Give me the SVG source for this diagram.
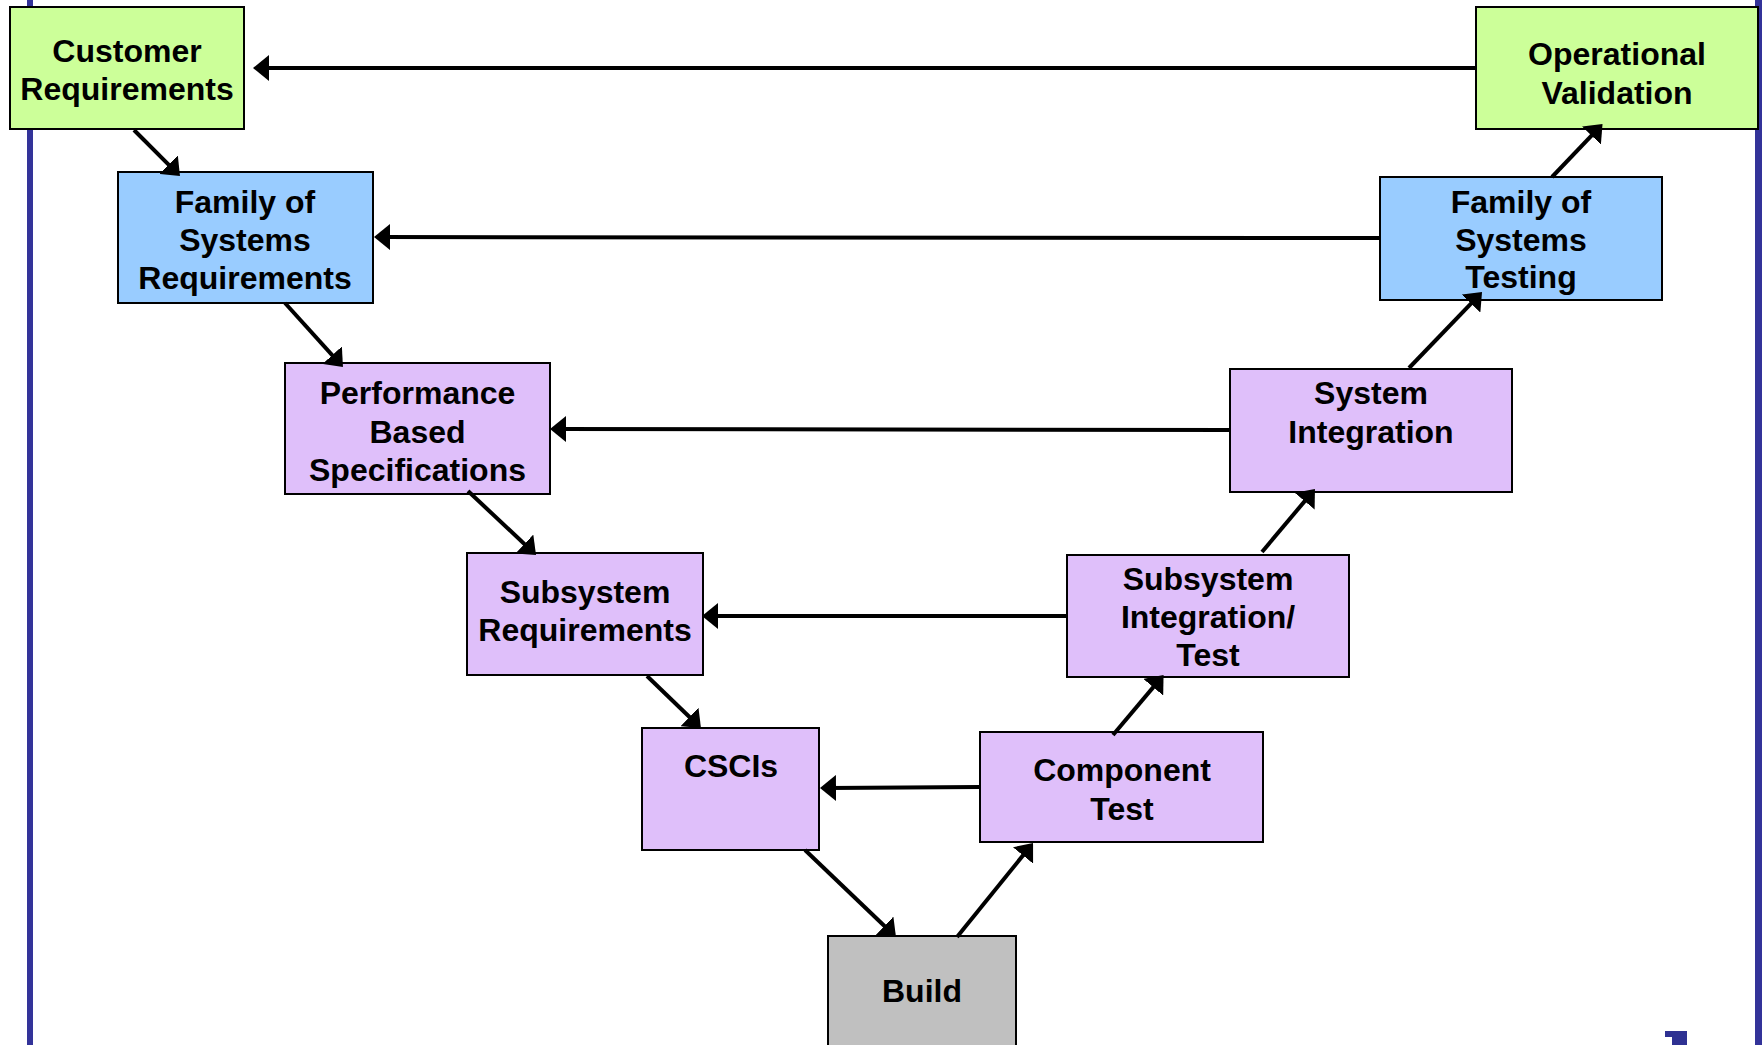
<svg xmlns="http://www.w3.org/2000/svg" width="1762" height="1045" viewBox="0 0 1762 1045">
<style>
  .box { stroke: #000; stroke-width: 2; }
  .green { fill: #CCFF99; }
  .blue { fill: #99CCFF; }
  .purple { fill: #DFBFFA; }
  .gray { fill: #C0C0C0; }
  .lbl { font-family: "Liberation Sans", Arial, sans-serif; font-weight: bold; font-size: 32px; fill: #000; text-anchor: middle; }
  .con { stroke: #000; stroke-width: 4; fill: none; marker-end: url(#ah); }
  .bar { fill: #333399; }
</style>
<defs>
  <marker id="ah" markerUnits="userSpaceOnUse" markerWidth="16" markerHeight="26" viewBox="0 0 16 26" refX="8" refY="13" orient="auto">
    <path d="M0,0 L16,13 L0,26 z" fill="#000"/>
  </marker>
</defs>
<rect width="1762" height="1045" fill="#fff"/>
<g id="frame">
  <rect class="bar" x="27" y="0" width="6" height="1045"/>
  <rect class="bar" x="1755" y="0" width="7" height="1045"/>
  <rect x="1672" y="1031" width="15" height="14" fill="#2E3192"/>
  <rect x="1665" y="1031" width="8" height="6" fill="#2E3192"/>
</g>
<g id="customer-requirements">
  <rect class="box green" x="10" y="7" width="234" height="122"/>
  <text class="lbl" x="127" y="62">Customer</text>
  <text class="lbl" x="127" y="100">Requirements</text>
</g>
<g id="operational-validation">
  <rect class="box green" x="1476" y="7" width="282" height="122"/>
  <text class="lbl" x="1617" y="65">Operational</text>
  <text class="lbl" x="1617" y="104">Validation</text>
</g>
<g id="fos-requirements">
  <rect class="box blue" x="118" y="172" width="255" height="131"/>
  <text class="lbl" x="245" y="213">Family of</text>
  <text class="lbl" x="245" y="251">Systems</text>
  <text class="lbl" x="245" y="289">Requirements</text>
</g>
<g id="fos-testing">
  <rect class="box blue" x="1380" y="177" width="282" height="123"/>
  <text class="lbl" x="1521" y="213">Family of</text>
  <text class="lbl" x="1521" y="251">Systems</text>
  <text class="lbl" x="1521" y="288">Testing</text>
</g>
<g id="performance-specs">
  <rect class="box purple" x="285" y="363" width="265" height="131"/>
  <text class="lbl" x="417.5" y="404">Performance</text>
  <text class="lbl" x="417.5" y="443">Based</text>
  <text class="lbl" x="417.5" y="481">Specifications</text>
</g>
<g id="system-integration">
  <rect class="box purple" x="1230" y="369" width="282" height="123"/>
  <text class="lbl" x="1371" y="404">System</text>
  <text class="lbl" x="1371" y="443">Integration</text>
</g>
<g id="subsystem-requirements">
  <rect class="box purple" x="467" y="553" width="236" height="122"/>
  <text class="lbl" x="585" y="603">Subsystem</text>
  <text class="lbl" x="585" y="641">Requirements</text>
</g>
<g id="subsystem-integration-test">
  <rect class="box purple" x="1067" y="555" width="282" height="122"/>
  <text class="lbl" x="1208" y="590">Subsystem</text>
  <text class="lbl" x="1208" y="628">Integration/</text>
  <text class="lbl" x="1208" y="666">Test</text>
</g>
<g id="cscis">
  <rect class="box purple" x="642" y="728" width="177" height="122"/>
  <text class="lbl" x="731" y="777">CSCIs</text>
</g>
<g id="component-test">
  <rect class="box purple" x="980" y="732" width="283" height="110"/>
  <text class="lbl" x="1122" y="781">Component</text>
  <text class="lbl" x="1122" y="820">Test</text>
</g>
<g id="build">
  <rect class="box gray" x="828" y="936" width="188" height="130"/>
  <text class="lbl" x="922" y="1002">Build</text>
</g>
<g id="connectors">
  <path class="con" d="M1476,68 L261,68"/>
  <path class="con" d="M1380,238 L382,237"/>
  <path class="con" d="M1230,430 L558,429"/>
  <path class="con" d="M1067,616 L710,616"/>
  <path class="con" d="M979,787 L828,788"/>
  <path class="con" d="M134,130 L174.3,170.3"/>
  <path class="con" d="M285,303 L337.6,361.1"/>
  <path class="con" d="M468,491 L530.2,549.5"/>
  <path class="con" d="M647,676 L695.2,722.5"/>
  <path class="con" d="M805,850 L890.2,931.5"/>
  <path class="con" d="M957,937 L1028,849.2"/>
  <path class="con" d="M1113,735 L1158.4,681.1"/>
  <path class="con" d="M1262,552 L1309.8,495.1"/>
  <path class="con" d="M1409,368 L1476.5,297.8"/>
  <path class="con" d="M1552,177 L1597,129.8"/>
</g>
</svg>
